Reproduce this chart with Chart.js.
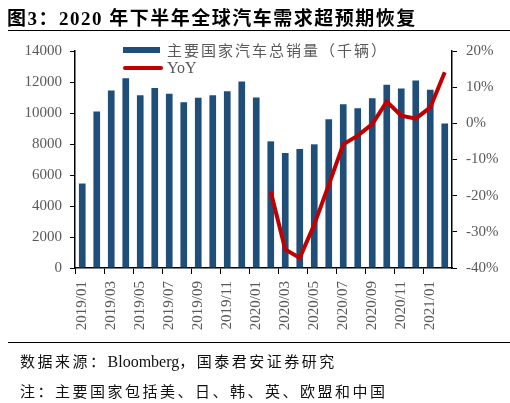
<!DOCTYPE html>
<html>
<head>
<meta charset="utf-8">
<script src="https://cdn.jsdelivr.net/npm/chart.js@4"></script>
<style>
  body { margin: 0; background: #fff; }
  #wrap { position: relative; width: 510px; height: 403px; overflow: hidden; }
  #myChart { position: absolute; left: 0; top: 0; }
  .txt { position: absolute; white-space: nowrap; font-family: "Liberation Serif", "Noto Sans CJK SC", serif; }
  #title { left: 7px; top: 3px; font-size: 19px; font-weight: bold; letter-spacing: 1.5px; color: #000; }
  .rule { position: absolute; left: 8px; width: 502px; height: 1px; background: #000; }
  .foot { left: 20px; font-size: 15px; letter-spacing: 2.5px; color: #111; }
  .lat { letter-spacing: 0; font-size: 16px; }
</style>
</head>
<body>
<div id="wrap">
  <canvas id="myChart" width="510" height="403"></canvas>
  <div class="txt" id="title">图3：2020 年下半年全球汽车需求超预期恢复</div>
  <div class="rule" style="top:30px"></div>
  <div class="rule" style="top:342px"></div>
  <div class="txt foot" style="top:350px">数据来源：<span class="lat">Bloomberg</span>，国泰君安证券研究</div>
  <div class="txt foot" style="top:380px">注：主要国家包括美、日、韩、英、欧盟和中国</div>
</div>
<script>
const months = ['2019/01', '2019/02', '2019/03', '2019/04', '2019/05', '2019/06', '2019/07', '2019/08', '2019/09', '2019/10', '2019/11', '2019/12',
  '2020/01', '2020/02', '2020/03', '2020/04', '2020/05', '2020/06', '2020/07', '2020/08', '2020/09', '2020/10', '2020/11', '2020/12',
  '2021/01', '2021/02'];
const sales = [5450, 10100, 11450, 12250, 11150, 11620, 11250, 10700, 10980, 11150, 11400, 12030,
  11000, 8170, 7420, 7680, 7980, 9600, 10560, 10300, 10950, 11820, 11580, 12100,
  11500, 9320];
const yoy = [null, null, null, null, null, null, null, null, null, null, null, null,
  null, -18.9, -34.9, -37.2, -28, -17, -5.8, -3.4, -0.2, 6.0, 2.1, 1.3,
  4.4, 14.1];

const grey = '#595959';
const tickFont = { family: 'Liberation Serif', size: 15 };

const legendPlugin = {
  id: 'innerLegend',
  afterDraw(chart) {
    const c = chart.ctx;
    const ds = chart.data.datasets;
    c.save();
    c.fillStyle = ds[0].backgroundColor;
    c.fillRect(123, 47, 37, 6);
    c.strokeStyle = ds[1].borderColor;
    c.lineWidth = 4;
    c.lineCap = 'round';
    c.beginPath();
    c.moveTo(125, 68);
    c.lineTo(161, 68);
    c.stroke();
    c.fillStyle = grey;
    c.textBaseline = 'middle';
    c.font = '15px "Noto Sans CJK SC"';
    c.letterSpacing = '2px';
    c.fillText(ds[0].label, 167, 50);
    c.letterSpacing = '0px';
    c.font = '16px "Liberation Serif"';
    c.fillText(ds[1].label, 167, 69);
    c.restore();
  }
};

const ctx = document.getElementById('myChart').getContext('2d');
const myChart = new Chart(ctx, {
  type: 'bar',
  data: {
    labels: months,
    datasets: [{
      type: 'bar',
      label: '主要国家汽车总销量（千辆）',
      data: sales,
      backgroundColor: '#1f4e79',
      barPercentage: 0.46,
      categoryPercentage: 1,
      yAxisID: 'y',
      order: 2
    }, {
      type: 'line',
      label: 'YoY',
      data: yoy,
      borderColor: '#c00000',
      borderWidth: 4,
      pointRadius: 0,
      tension: 0,
      yAxisID: 'y1',
      order: 1
    }]
  },
  options: {
    responsive: false,
    animation: false,
    layout: { padding: { top: 51, left: 0, right: 0, bottom: 0 } },
    plugins: { legend: { display: false }, tooltip: { enabled: false } },
    scales: {
      x: {
        offset: true,
        afterFit: s => { s.height = 135; },
        border: { display: true, color: '#000', width: 1.5 },
        grid: {
          offset: true,
          drawOnChartArea: false,
          tickLength: 6,
          color: c => (c.index % 2 === 0 ? '#000' : 'rgba(0,0,0,0)')
        },
        ticks: {
          autoSkip: false,
          maxRotation: 90,
          minRotation: 90,
          padding: 7,
          color: grey,
          font: tickFont,
          callback: function (v, i) { return i % 2 === 0 ? this.getLabelForValue(v) : ''; }
        }
      },
      y: {
        position: 'left',
        min: 0,
        max: 14000,
        afterFit: s => { s.width = 75; },
        border: { display: true, color: '#000', width: 1.5 },
        grid: { drawOnChartArea: false, tickLength: 5, color: '#000' },
        ticks: { stepSize: 2000, padding: 8, color: grey, font: tickFont, callback: v => String(v) }
      },
      y1: {
        position: 'right',
        min: -40,
        max: 20,
        afterFit: s => { s.width = 58; },
        border: { display: true, color: '#000', width: 1.5 },
        grid: { drawOnChartArea: false, tickLength: 5, color: '#000' },
        ticks: { stepSize: 10, padding: 9, color: grey, font: tickFont, callback: v => v + '%' }
      }
    }
  },
  plugins: [legendPlugin]
});
</script>
</body>
</html>
